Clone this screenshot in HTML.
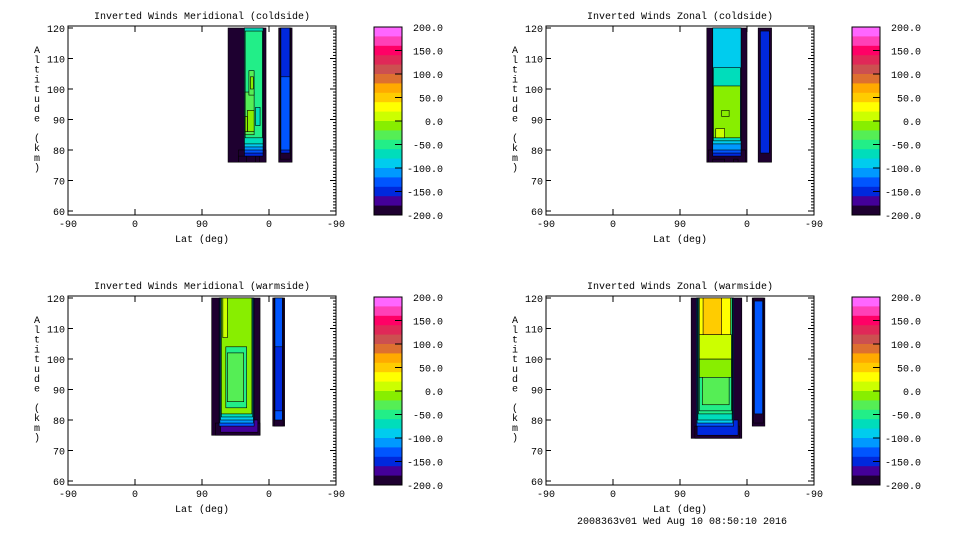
<!DOCTYPE html>
<html><head><meta charset="utf-8"><style>
html,body{margin:0;padding:0;background:#fff;}
svg{display:block;font-family:"Liberation Mono",monospace;font-size:10px;}
</style></head><body>
<svg id="c" width="960" height="540" xmlns="http://www.w3.org/2000/svg"></svg>
<script>
// colour scale bands (top = 200 down to -200), 20 bands of 20
const bandColors = ["#ff66ff","#ff40b8","#ff0066","#e02858","#cc5050","#dd7030","#ffaa00","#ffcc00","#ffff00","#ccff00","#88ee00","#55ee55","#22ee88","#00ddbb","#00ccee","#0099ff","#0055ff","#0028dd","#440099","#1e0030"];
const cbarLabels = ["200.0","150.0","100.0","50.0","0.0","-50.0","-100.0","-150.0","-200.0"];
const cbarValues = [200,150,100,50,0,-50,-100,-150,-200];
const xTickLabels = ["-90","0","90","0","-90"];
const xTickPos = [0,90,180,270,360];
const yTickValues = [60,70,80,90,100,110,120];
const panelTitles = ["Inverted Winds Meridional (coldside)","Inverted Winds Zonal (coldside)","Inverted Winds Meridional (warmside)","Inverted Winds Zonal (warmside)"];
// layers: [uStart,uEnd,altLow,altHigh,value]
const layersTL = [
 [215,266,76,120,-200],[229,266,76,80,-185],[229,240,76,78,-200],[252,257,76,78,-200],
 [237,262,78,120,-150],[237,262,79,120,-120],[237,262,80,120,-100],[237,262,81,120,-80],[237,262,82,120,-65],
 [238,261,84,119,-50],[238,250,85,99,-30],[241,250,86,93,-10],[243,250,98,106,-30],[245,249,100,104,-10],
 [252,258,88,94,-65],[238,241,86,91,0]
];
const stripTL = [[283,301,76,120,-200],[285,299,77,120,-185],[286,298,79,120,-150],[286,298,80,104,-130]];
const layersTR = [
 [216,270,76,120,-200],[218,268,76,80,-185],[224,240,76,77,-200],[252,258,76,77,-200],
 [224,262,78,120,-150],[224,262,79,120,-120],[224,262,80,120,-100],[224,262,82,120,-90],
 [225,261,83,107,-70],[225,261,84,101,-10],[228,240,84,87,10],[236,246,91,93,-10]
];
const stripTR = [[285,303,76,120,-190],[288,300,79,119,-150]];
const layersBL = [
 [193,258,75,120,-200],[198,258,75,79,-185],[205,255,76,80,-160],
 [203,250,78,120,-130],[204,249,79,120,-100],[205,249,80,120,-80],[206,248,81,120,-60],
 [206,247,82,120,-10],[212,240,84,104,-50],[214,236,86,102,-30],[208,214,107,120,10]
];
const stripBL = [[275,291,78,120,-200],[277,289,78,120,-185],[278,288,80,120,-130],[278,288,83,104,-140]];
const layersBR = [
 [195,263,74,120,-200],[200,260,74,78,-185],[203,258,75,80,-150],
 [202,252,78,120,-120],[203,251,79,120,-90],[204,250,80,120,-60],[205,250,82,120,-40],
 [206,249,83,100,-50],[210,246,85,97,-30],[206,249,94,100,-10],[206,249,100,108,10],
 [206,248,108,120,30],[211,236,108,120,50]
];
const stripBR = [[277,294,78,120,-200],[279,292,79,120,-185],[280,291,82,119,-130]];
const panelLayers = [layersTL.concat(stripTL),layersTR.concat(stripTR),layersBL.concat(stripBL),layersBR.concat(stripBR)];

const NS="http://www.w3.org/2000/svg";
const svg=document.getElementById('c');
function mk(tag,attrs,parent){const e=document.createElementNS(NS,tag);for(const k in attrs)e.setAttribute(k,attrs[k]);(parent||svg).appendChild(e);return e;}
function color(v){let i=Math.floor((200-v)/20);if(i<0)i=0;if(i>19)i=19;return bandColors[i];}

const offs=[[0,0],[478,0],[0,270],[478,270]];
panelLayers.forEach((layers,p)=>{
  const ox=offs[p][0],oy=offs[p][1];
  const L=68+ox,R=336+ox,T=26+oy,B=215+oy;
  const xs=u=>L+u*(R-L)/360;
  const ys=a=>28+oy+(120-a)*(211-28)/60;
  const g=mk('g',{});
  
  
  layers.forEach(l=>{
    const x0=xs(l[0]),x1=xs(l[1]),y0=Math.max(ys(l[3]),T),y1=ys(l[2]);
    const r=mk('rect',{x:x0,y:y0,width:x1-x0,height:y1-y0,fill:color(l[4]),stroke:'#000','stroke-width':0.6},g);
    
    
  });
  const box=mk('rect',{x:L,y:T,width:R-L,height:B-T,fill:'none',stroke:'#000','stroke-width':1},g);
  
  
  for(let a=60;a<=120;a++){
    const y=ys(a);const len=(a%10===0)?6:3;
    mk('line',{x1:R,x2:R-len,y1:y,y2:y,stroke:'#000','stroke-width':1},g);
    if(a%10===0) mk('line',{x1:L,x2:L+5,y1:y,y2:y,stroke:'#000','stroke-width':1},g);
  }
  yTickValues.forEach(v=>{
    const t=mk('text',{x:L-3,y:ys(v)+4,'text-anchor':'end'},g);t.textContent=v;
    
    
  });
  xTickPos.forEach((u,i)=>{
    const x=xs(u);
    mk('line',{x1:x,x2:x,y1:B,y2:B-6,stroke:'#000'},g);
    mk('line',{x1:x,x2:x,y1:T,y2:T+6,stroke:'#000'},g);
    const t=mk('text',{x:x,y:B+12,'text-anchor':'middle'},g);t.textContent=xTickLabels[i];
    
    
  });
  const tt=mk('text',{x:(L+R)/2,y:19+oy,'text-anchor':'middle'},g);tt.textContent=panelTitles[p];
  
  
  const xt=mk('text',{x:(L+R)/2,y:242+oy,'text-anchor':'middle'},g);xt.textContent='Lat (deg)';
  
  
  const yt=mk('text',{x:37+ox,y:50+oy,'text-anchor':'middle'},g);
  
  
  "Altitude (km)".split('').forEach((ch,i)=>{const s=mk('tspan',{x:37+ox,y:53+oy+i*9.8},yt);s.textContent=ch;});
  const cx=374+ox,cw=28,cT=27+oy,cB=215+oy;
  const cb=mk('g',{});
  
  
  const bh=(cB-cT)/20;
  bandColors.forEach((c,i)=>mk('rect',{x:cx,y:cT+i*bh,width:cw,height:bh+0.5,fill:c},cb));
  mk('rect',{x:cx,y:cT,width:cw,height:cB-cT,fill:'none',stroke:'#000'},cb);
  cbarValues.forEach((v,i)=>{
    const y=cT+(200-v)/400*(cB-cT);
    if(i>0&&i<8) mk('line',{x1:cx+cw,x2:cx+cw-7,y1:y,y2:y,stroke:'#000'},cb);
    const t=mk('text',{x:443+ox,y:y+4,'text-anchor':'end'},cb);t.textContent=cbarLabels[i];
    
    
  });
});
const ft=mk('text',{x:682,y:524,'text-anchor':'middle'});ft.textContent='2008363v01 Wed Aug 10 08:50:10 2016';


</script>
</body></html>
